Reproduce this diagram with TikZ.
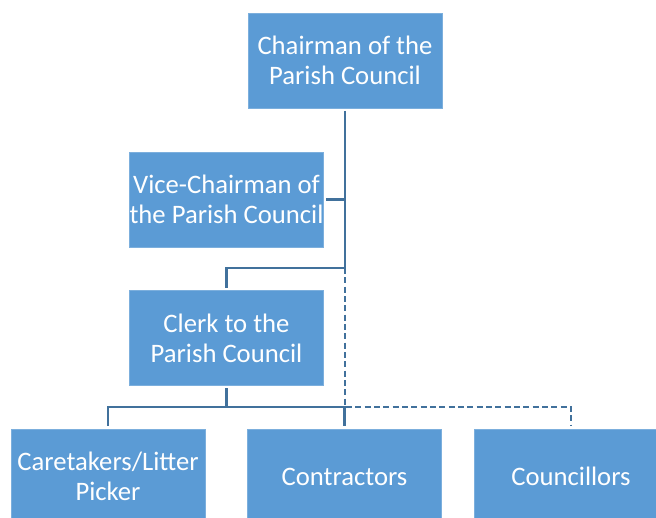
\documentclass[tikz,border=0pt]{standalone}
\usepackage{fontspec}
\setmainfont{Carlito}
\usetikzlibrary{calc}

\definecolor{boxblue}{HTML}{5B9BD5}
\definecolor{lineblue}{HTML}{41719C}

\tikzset{
  post/.style={fill=boxblue, draw=boxblue!80!white, text=white, align=center,
    minimum width=145.5pt, minimum height=71.25pt, inner sep=0pt, font=\fontsize{20}{22.5}\selectfont},
  link/.style={draw=lineblue, line width=1.7pt, shorten >=2pt, shorten <=2pt},
  duty/.style={link, dash pattern=on 4.5pt off 2.5pt}
}

\begin{document}
\begin{tikzpicture}[x=0.75pt, y=-0.75pt]
  \useasboundingbox (0,0) rectangle (656,517);
  \clip (0,0) rectangle (656,517);

  \node[post] (chair) at (345,60.5) {Chairman of the\\Parish Council};
  \node[post] (vice) at (226.5,199.5) {Vice-Chairman of\\the Parish Council};
  \node[post] (clerk) at (226.5,338) {Clerk to the\\Parish Council};
  \node[post] (care) at (108,476.5) {Caretakers/Litter\\Picker};
  \node[post] (contr) at (344.5,476.5) {Contractors};
  \node[post] (counc) at (571,476.5) {Councillors};

  \coordinate (split) at (chair.south |- 0,268);
  \coordinate (vice_joint) at (vice.east -| chair.south);
  \coordinate (staff_bar) at (clerk.south |- 0,407);
  \coordinate (counc_bar) at (chair.south |- 0,407);

  \draw[link, shorten >=0pt] (chair.south) -- (split);
  \draw[link, shorten >=0pt] (vice.east) -- (vice_joint);
  \draw[link, shorten <=0pt] (split) -| (clerk.north);

  \draw[link, shorten >=0pt] (clerk.south) -- (staff_bar);
  \draw[link, shorten <=0pt] (staff_bar) -| (care.north);
  \draw[link, shorten <=0pt] (staff_bar) -| (contr.north);

  \draw[duty, shorten <=0pt] (split) -- (counc_bar) -| (counc.north);
\end{tikzpicture}
\end{document}
